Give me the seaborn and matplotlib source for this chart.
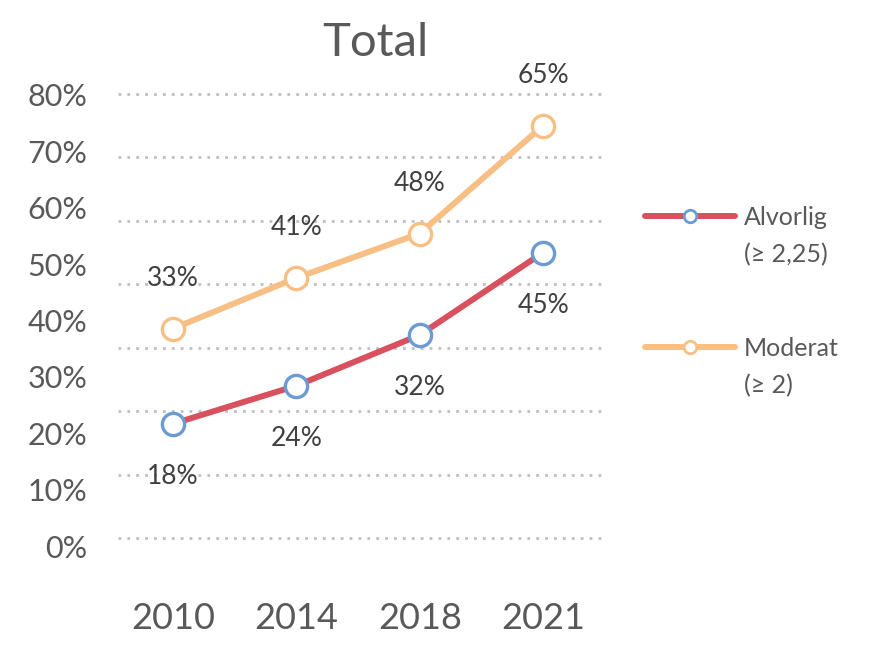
import numpy as np
import pandas as pd
import seaborn as sns
from matplotlib import pyplot as plt
from matplotlib.lines import Line2D
from matplotlib.ticker import PercentFormatter

years = ["2010", "2014", "2018", "2021"]
alvorlig = [0.18, 0.24, 0.32, 0.45]
moderat = [0.33, 0.41, 0.48, 0.65]
grid_vals = [0.0, 0.1, 0.2, 0.3, 0.4, 0.5, 0.6, 0.7]
ytick_vals = [0.0, 0.1, 0.2, 0.3, 0.4, 0.5, 0.6, 0.7, 0.8]
series_names = ["Alvorlig", "Moderat"]
series_notes = ["(\u2265 2,25)", "(\u2265 2)"]

RED = "#D9505F"
BLUE = "#6C9BD2"
ORANGE = "#F8BF85"
GREY_TXT = "#595959"
DARK_TXT = "#404040"

sns.set_theme(style="white")
plt.rcParams['font.family'] = ['Lato', 'DejaVu Sans']

df = pd.DataFrame({
    "year": years * 2,
    "value": alvorlig + moderat,
    "serie": [series_names[0]] * 4 + [series_names[1]] * 4,
})

fig = plt.figure(figsize=(8.76, 6.6), dpi=100)
ax = fig.add_axes([0.1347, 0.1515, 0.5571, 0.7273])

# gridlines (dotted)
for g in grid_vals:
    ax.axhline(g, color="#BFBFBF", linestyle=(0, (1, 2.2)), linewidth=2, zorder=0)

styles = [(RED, BLUE), (ORANGE, ORANGE)]
for name, (lc, mc) in zip(series_names, styles):
    sub = df[df["serie"] == name]
    sns.lineplot(data=sub, x="year", y="value", ax=ax, color=lc, linewidth=4.3,
                 marker="o", markersize=16, markerfacecolor="white",
                 markeredgecolor=mc, markeredgewidth=2.4, zorder=3, legend=False)

# data labels
for i, v in enumerate(alvorlig):
    ax.annotate(f"{int(round(v * 100))}%", (i, v), xytext=(0, -38), textcoords="offset points",
                ha="center", va="center", fontsize=19, color=DARK_TXT)
for i, v in enumerate(moderat):
    ax.annotate(f"{int(round(v * 100))}%", (i, v), xytext=(0, 36), textcoords="offset points",
                ha="center", va="center", fontsize=19, color=DARK_TXT)

ax.set_xlim(-0.445, 3.51)
ax.set_ylim(-0.0347, 0.722)
ax.set_xlabel("")
ax.set_ylabel("")
ax.set_yticks([])
ax.tick_params(axis="x", length=0, pad=30, labelsize=26, labelcolor=GREY_TXT)
for s in ax.spines.values():
    s.set_visible(False)

# percent labels on the left, on their own scale
ax2 = ax.twinx()
ax2.yaxis.tick_left()
ax2.set_ylim(-0.0248, 0.8266)
ax2.set_yticks(ytick_vals)
ax2.yaxis.set_major_formatter(PercentFormatter(1.0, decimals=0))
ax2.tick_params(axis="y", length=0, pad=22, labelsize=22, labelcolor=GREY_TXT)
for s in ax2.spines.values():
    s.set_visible(False)

fig.text(375 / 876, 1 - 43 / 660, "Total", ha="center", va="center", fontsize=34, color=GREY_TXT)

# legend: one per series, handle next to first line of the label
blank = Line2D([], [], linestyle="none")
leg_tops = [1 - 206 / 660, 1 - 337 / 660]
for lc, mc, name, note, top in zip([RED, ORANGE], [BLUE, ORANGE], series_names, series_notes, leg_tops):
    h = Line2D([], [], color=lc, linewidth=4.3, marker="o", markersize=9,
               markerfacecolor="white", markeredgecolor=mc, markeredgewidth=2)
    fig.legend([h, blank], [name, note], loc="upper left", bbox_to_anchor=(645 / 876, top),
               frameon=False, fontsize=18, labelcolor=GREY_TXT, handlelength=3.6,
               labelspacing=0.55, handletextpad=0.35, borderpad=0, borderaxespad=0)

fig.savefig("out.png", dpi=100)
